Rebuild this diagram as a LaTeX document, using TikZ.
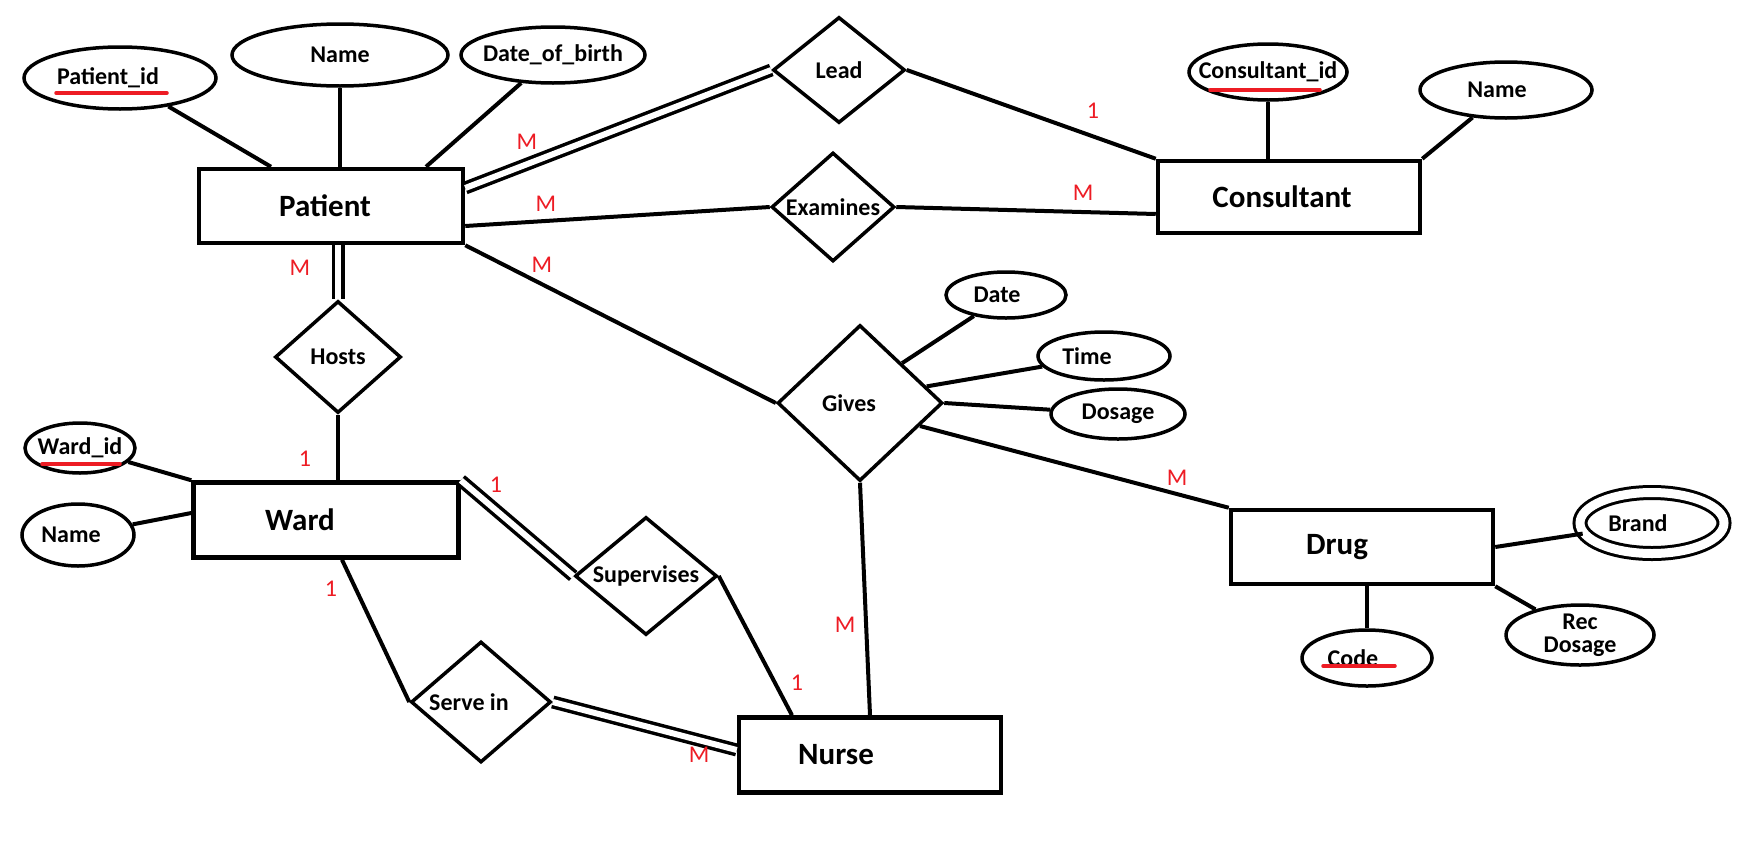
\documentclass[tikz,border=0pt]{standalone}
\usepackage{fontspec}
\setmainfont{Carlito}
\usetikzlibrary{shapes.geometric}
\definecolor{cardred}{RGB}{237,28,36}
\tikzset{
  entity/.style={draw, rectangle, line width=4.5pt, minimum width=262pt, minimum height=74pt, inner sep=0pt},
  etext/.style={font=\fontsize{31}{31}\selectfont\bfseries},
  attrib/.style={draw, ellipse, line width=3.5pt, inner xsep=-20pt, inner ysep=-8pt, align=center, font=\fontsize{24}{23}\selectfont\bfseries},
  relation/.style={draw, diamond, line width=3.5pt, inner sep=-5pt, font=\fontsize{24}{24}\selectfont\bfseries},
  nudge/.style={execute at begin node={\hspace*{#1}}},
  link/.style={line width=4pt},
  dbl/.style={double, double distance=6pt, line width=3.5pt},
  card/.style={text=cardred, font=\fontsize{24}{24}\selectfont},
  keyline/.style={cardred, line width=3.5pt, line cap=round},
}
\begin{document}
\begin{tikzpicture}[x=1pt, y=-1pt]
\useasboundingbox (0,0) rectangle (1763,846);

% entities
\node[entity, minimum width=264pt, label={[etext, xshift=-6pt]center:Patient}] (patient) at (331,206) {};
\node[entity, minimum height=72pt, label={[etext, xshift=-7pt]center:Consultant}] (consultant) at (1289,197) {};
\node[entity, minimum width=265pt, minimum height=75pt, label={[etext, xshift=-26pt]center:Ward}] (ward) at (326,520) {};
\node[entity, label={[etext, xshift=-25pt]center:Drug}] (drug) at (1362,547) {};
\node[entity, minimum height=75pt, label={[etext, xshift=-34pt]center:Nurse}] (nurse) at (870,755) {};

% relationships
\node[relation, minimum width=132pt, minimum height=106pt] (lead) at (839,70) {Lead};
\node[relation, minimum width=123pt, minimum height=109pt] (examines) at (833,207) {Examines};
\node[relation, minimum width=126pt, minimum height=112pt] (hosts) at (338,357) {Hosts};
\node[relation, minimum width=165pt, minimum height=156pt, nudge=-22pt] (gives) at (860,403) {Gives};
\node[relation, minimum width=142pt, minimum height=118pt] (supervises) at (646,576) {Supervises};
\node[relation, minimum width=140pt, minimum height=121pt, nudge=-24pt] (servein) at (481,702) {Serve in};

% attributes
\node[attrib, minimum width=192pt, minimum height=62pt, nudge=-24pt] (pid) at (120,78) {Patient\_id};
\node[attrib, minimum width=216pt, minimum height=62pt] (pname) at (340,55) {Name};
\node[attrib, minimum width=184pt, minimum height=56pt] (pdob) at (553,55) {Date\_of\_birth};
\node[attrib, minimum width=158pt, minimum height=56pt] (cid) at (1268,72) {Consultant\_id};
\node[attrib, minimum width=172pt, minimum height=56pt, nudge=-18pt] (cname) at (1506,90) {Name};
\node[attrib, minimum width=120pt, minimum height=46pt, nudge=-18pt] (date) at (1006,295) {Date};
\node[attrib, minimum width=132pt, minimum height=48pt, nudge=-34pt] (time) at (1104,356) {Time};
\node[attrib, minimum width=134pt, minimum height=50pt] (dosage) at (1118,414) {Dosage};
\node[attrib, minimum width=110pt, minimum height=50pt] (wid) at (80,448) {Ward\_id};
\node[attrib, minimum width=112pt, minimum height=62pt, nudge=-14pt] (wname) at (78,535) {Name};
\node[attrib, minimum width=130pt, minimum height=56pt, nudge=-28pt] (code) at (1367,658) {Code};
\node[attrib, minimum width=148pt, minimum height=60pt] (recdos) at (1580,635) {Rec\\Dosage};
\node[attrib, double, double distance=9pt, line width=3pt, minimum width=144pt, minimum height=61pt, nudge=-28pt] (brand) at (1652,523) {Brand};

% key underlines
\draw[keyline] ([xshift=-64pt,yshift=-15pt]pid.center) -- ++(111,0);
\draw[keyline] ([xshift=-58pt,yshift=-18pt]cid.center) -- ++(110,0);
\draw[keyline] ([xshift=-38pt,yshift=-16pt]wid.center) -- ++(78,0);
\draw[keyline] ([xshift=-44pt,yshift=-8pt]code.center) -- ++(72,0);

% attribute links
\draw[link] (pid) -- ([xshift=-60pt]patient.north);
\draw[link] (pname.south) -- (pname.south |- patient.north);
\draw[link] (pdob) -- ([xshift=95pt]patient.north);
\draw[link] (cid.south) -- (cid.south |- consultant.north);
\draw[link] (cname) -- (consultant.north east);
\draw[link] (gives.north east) -- (date);
\draw[link] (gives.14) -- (time);
\draw[link] (gives.east) -- (dosage);
\draw[link] (wid) -- (ward.north west);
\draw[link] (wname) -- ([yshift=7pt]ward.west);
\draw[link] (code.north) -- (code.north |- drug.south);
\draw[link] (drug.south east) -- (recdos);
\draw[link] (drug.east) -- (brand);

% relationship links
\draw[dbl] ([yshift=18pt]patient.east) -- (lead.west);
\draw[link] (lead.east) -- (consultant.north west);
\draw[link] ([yshift=-20pt]patient.east) -- (examines.west);
\draw[link] (examines.east) -- ([yshift=-17pt]consultant.west);
\draw[link] (patient.south east) -- (gives.west);
\draw[link] (gives.-21) -- (drug.north west);
\draw[link] (gives.south) -- (nurse.north);
\draw[dbl] (patient.south -| hosts.north) -- (hosts.north);
\draw[link] (hosts.south) -- (hosts.south |- ward.north);
\draw[dbl] (ward.north east) -- (supervises.west);
\draw[link] (supervises.east) -- ([xshift=-78pt]nurse.north);
\draw[link] ([xshift=16pt]ward.south) -- (servein.west);
\draw[dbl] (servein.east) -- ([yshift=5pt]nurse.west);

% cardinalities
\node[card] (c-pl) at (527,142) {M};
\node[card] (c-lc) at (1093,111) {1};
\node[card] (c-pe) at (546,204) {M};
\node[card] (c-ec) at (1083,193) {M};
\node[card] (c-pg) at (542,265) {M};
\node[card] (c-gd) at (1177,478) {M};
\node[card] (c-gn) at (845,625) {M};
\node[card] (c-ph) at (300,268) {M};
\node[card] (c-hw) at (305,459) {1};
\node[card] (c-ws) at (496,485) {1};
\node[card] (c-sn) at (797,683) {1};
\node[card] (c-wi) at (331,589) {1};
\node[card] (c-in) at (699,755) {M};
\end{tikzpicture}
\end{document}
